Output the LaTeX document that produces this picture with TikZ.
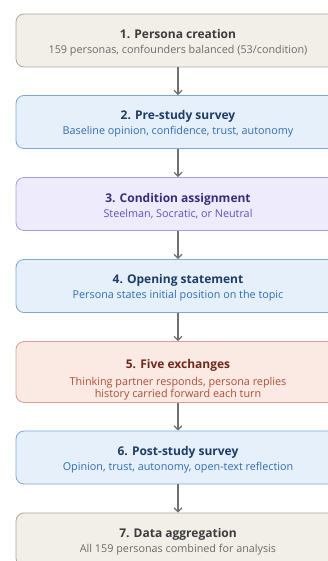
\documentclass[tikz,border=0pt]{standalone}
\usepackage{fontspec}
\setmainfont{Open Sans}
\usetikzlibrary{arrows.meta}

\definecolor{sandfill}{HTML}{F2EFE9}
\definecolor{sanddraw}{HTML}{ABA79F}
\definecolor{sandhead}{HTML}{3C3C3C}
\definecolor{sandtext}{HTML}{6B6B6B}
\definecolor{bluefill}{HTML}{E6F0FB}
\definecolor{bluedraw}{HTML}{7EA6D3}
\definecolor{bluehead}{HTML}{1E3D66}
\definecolor{bluetext}{HTML}{2E6DB0}
\definecolor{lilacfill}{HTML}{EEEBFC}
\definecolor{lilacdraw}{HTML}{A99FDB}
\definecolor{lilachead}{HTML}{3A2D7D}
\definecolor{lilactext}{HTML}{6450BE}
\definecolor{rosefill}{HTML}{FBEAE4}
\definecolor{rosedraw}{HTML}{D6A393}
\definecolor{rosehead}{HTML}{6E2A19}
\definecolor{rosetext}{HTML}{B04C33}
\definecolor{flowline}{HTML}{707070}

% heading line; the strut sets the room above the text block
\newcommand{\stephead}[2][13.5pt]{{\fontsize{12}{16}\selectfont\bfseries\rule{0pt}{#1}#2}}
\newcommand{\stepbody}[1]{{\fontsize{10.8}{13}\selectfont #1}}

\tikzset{
  stepbox/.style={draw, rounded corners=8pt, line width=0.8pt,
    minimum width=324pt, minimum height=53pt, inner sep=0pt, align=center},
  sand/.style={stepbox, fill=sandfill, draw=sanddraw, text=sandtext},
  blue/.style={stepbox, fill=bluefill, draw=bluedraw, text=bluetext},
  lilac/.style={stepbox, fill=lilacfill, draw=lilacdraw, text=lilactext},
  rose/.style={stepbox, fill=rosefill, draw=rosedraw, text=rosetext},
  flow/.style={draw=flowline, line width=1.5pt,
    -{Straight Barb[length=4pt,width=8pt,line width=1.2pt]}}
}

\begin{document}
\begin{tikzpicture}[x=1pt,y=1pt]
\useasboundingbox (0,0) rectangle (328,-561);
\clip (0,0) rectangle (328,-561);

\node[sand]  (s1) at (178,-40.5)  {\textcolor{sandhead}{\stephead{1. Persona creation}}\\[3pt]\stepbody{159 personas, confounders balanced (53/condition)}};
\node[blue]  (s2) at (178,-122)   {\textcolor{bluehead}{\stephead{2. Pre-study survey}}\\[3pt]\stepbody{Baseline opinion, confidence, trust, autonomy}};
\node[lilac] (s3) at (178,-204)   {\textcolor{lilachead}{\stephead{3. Condition assignment}}\\[3pt]\stepbody{Steelman, Socratic, or Neutral}};
\node[blue]  (s4) at (178,-286)   {\textcolor{bluehead}{\stephead{4. Opening statement}}\\[3pt]\stepbody{Persona states initial position on the topic}};
\node[rose, minimum height=61pt] (s5) at (178,-372) {\textcolor{rosehead}{\stephead[24pt]{5. Five exchanges}}\\[5pt]\stepbody{Thinking partner responds, persona replies}\\\stepbody{history carried forward each turn}};
\node[blue]  (s6) at (178,-457.5) {\textcolor{bluehead}{\stephead{6. Post-study survey}}\\[3pt]\stepbody{Opinion, trust, autonomy, open-text reflection}};
\node[sand]  (s7) at (178,-539.5) {\textcolor{sandhead}{\stephead{7. Data aggregation}}\\[3pt]\stepbody{All 159 personas combined for analysis}};

\foreach \a/\b in {s1/s2,s2/s3,s3/s4,s4/s5,s5/s6,s6/s7}
  \draw[flow] (\a.south) -- (\b.north);
\end{tikzpicture}
\end{document}
